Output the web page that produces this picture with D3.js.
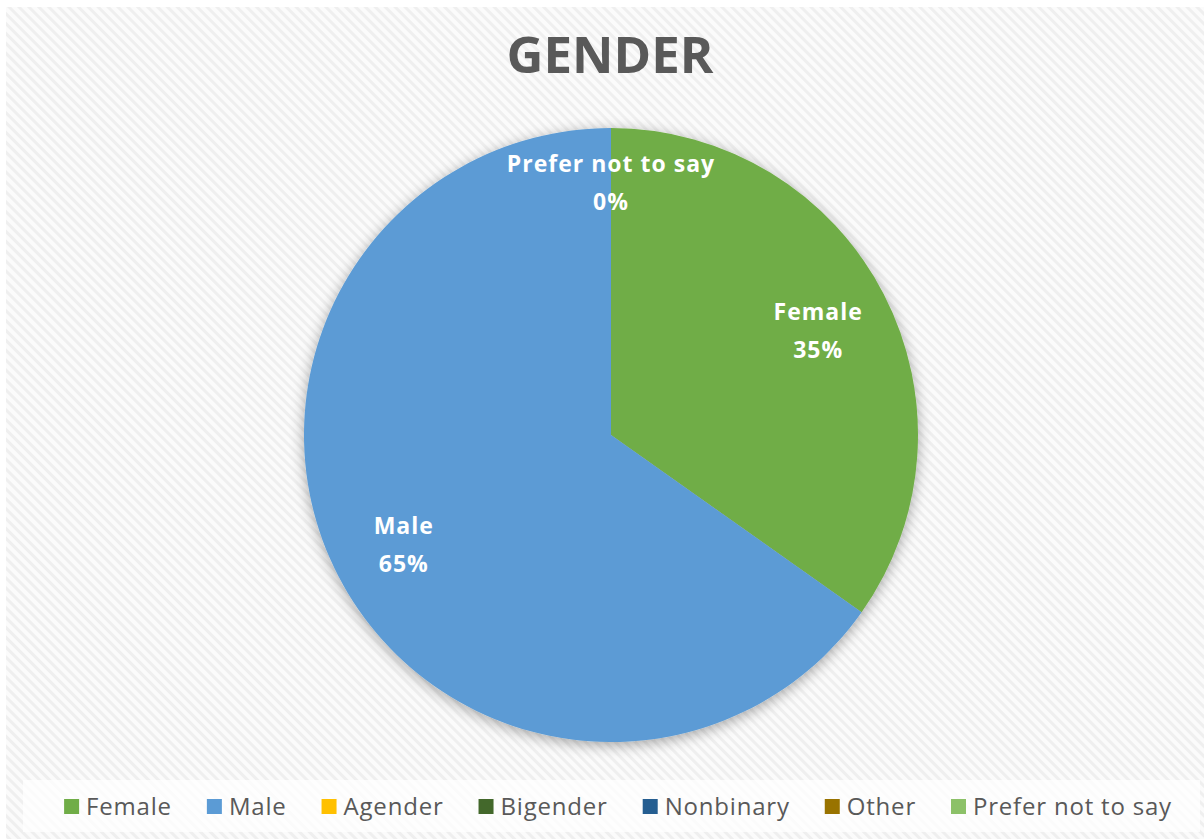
<!DOCTYPE html>
<html>
<head>
<meta charset="utf-8">
<script src="https://cdn.jsdelivr.net/npm/d3@7"></script>
<style>
  html, body { margin: 0; padding: 0; background: #fff; }
  svg { display: block; }
</style>
</head>
<body>
<div id="chart"></div>
<script>
// data
const categories = ["Female", "Male", "Agender", "Bigender", "Nonbinary", "Other", "Prefer not to say"];
const values = [34.8, 65.2, 0, 0, 0, 0, 0];
const sliceColors = ["#70AD47", "#5B9BD5", "#FFC000", "#43682B", "#255E91", "#997300", "#8CC168"];
const title = "GENDER";

const width = 1204, height = 839;
const cx = 611, cy = 435, radius = 307;

const svg = d3.select("#chart").append("svg")
    .attr("width", width)
    .attr("height", height)
    .attr("viewBox", `0 0 ${width} ${height}`);

const defs = svg.append("defs");

// 斜线背景
const pat = defs.append("pattern")
    .attr("id", "hatch")
    .attr("patternUnits", "userSpaceOnUse")
    .attr("width", 7)
    .attr("height", 7)
    .attr("patternTransform", "rotate(-45)");
pat.append("rect").attr("width", 7).attr("height", 7).attr("fill", "#fbfbfb");
pat.append("rect").attr("x", 0).attr("width", 3).attr("height", 7).attr("fill", "#efefef");

// 阴影
const shadow = defs.append("filter")
    .attr("id", "shadow")
    .attr("x", "-20%").attr("y", "-20%")
    .attr("width", "140%").attr("height", "140%");
shadow.append("feDropShadow")
    .attr("dx", 0).attr("dy", 3)
    .attr("stdDeviation", 7)
    .attr("flood-color", "#000")
    .attr("flood-opacity", 0.35);

svg.append("rect")
    .attr("x", 6).attr("y", 7)
    .attr("width", width - 6).attr("height", height - 7)
    .attr("fill", "url(#hatch)");

// 标题
svg.append("text")
    .attr("x", 610)
    .attr("y", 73)
    .attr("text-anchor", "middle")
    .attr("font-family", "'Open Sans', sans-serif")
    .attr("font-weight", 700)
    .attr("font-size", 51)
    .attr("fill", "#595959")
    .text(title);

// 饼图
const data = categories.map((c, i) => ({ name: c, value: values[i], color: sliceColors[i] }));
const total = d3.sum(values);

const pie = d3.pie()
    .value(d => d.value)
    .sort(null);
const arcs = pie(data);

const arc = d3.arc().innerRadius(0).outerRadius(radius);

const g = svg.append("g")
    .attr("transform", `translate(${cx},${cy})`);

g.append("g")
    .attr("filter", "url(#shadow)")
    .selectAll("path")
    .data(arcs.filter(d => d.data.value > 0))
    .join("path")
    .attr("d", arc)
    .attr("fill", d => d.data.color);

// 标签：非零扇区 + 最后一个零值
const labelArcs = arcs.filter((d, i) => d.data.value > 0 || i === arcs.length - 1);
labelArcs.forEach(d => {
    const r = d.data.value > 0 ? radius * 0.76 : radius * 0.83;
    const c = d3.arc().innerRadius(r).outerRadius(r).centroid(d);
    const t = g.append("text")
        .attr("text-anchor", "middle")
        .attr("font-family", "'Open Sans', sans-serif")
        .attr("font-weight", 700)
        .attr("font-size", 23)
        .attr("letter-spacing", 1)
        .attr("fill", "#fff");
    t.append("tspan").attr("x", c[0]).attr("y", c[1] - 8).text(d.data.name);
    t.append("tspan").attr("x", c[0]).attr("y", c[1] + 30)
        .text(Math.round(d.data.value / total * 100) + "%");
});

// 图例
svg.append("rect")
    .attr("x", 23).attr("y", 780)
    .attr("width", 1177).attr("height", 52)
    .attr("fill", "#fff")
    .attr("opacity", 0.75);

const legend = svg.append("g");
const sq = 15, gapIn = 7, gapOut = 35;
const items = legend.selectAll("g")
    .data(data)
    .join("g");
items.append("rect")
    .attr("width", sq).attr("height", sq)
    .attr("y", 799)
    .attr("fill", d => d.color);
items.append("text")
    .attr("y", 815)
    .attr("font-family", "'Open Sans', sans-serif")
    .attr("font-size", 24)
    .attr("letter-spacing", 0.8)
    .attr("fill", "#595959")
    .text(d => d.name);

let widths = [];
items.select("text").each(function () { widths.push(this.getComputedTextLength()); });
const totalW = d3.sum(widths) + data.length * (sq + gapIn) + (data.length - 1) * gapOut;
let xPos = 618 - totalW / 2;
items.each(function (d, i) {
    d3.select(this).select("rect").attr("x", xPos);
    d3.select(this).select("text").attr("x", xPos + sq + gapIn);
    xPos += sq + gapIn + widths[i] + gapOut;
});
</script>
</body>
</html>
